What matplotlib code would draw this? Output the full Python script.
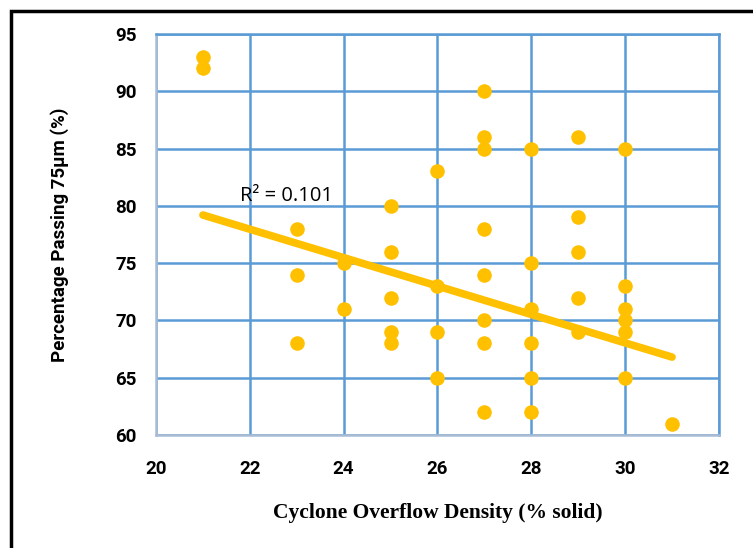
import numpy as np
from matplotlib import pyplot as plt
from matplotlib.patches import Rectangle

# data
density = [21, 21,
           23, 23, 23,
           24, 24,
           25, 25, 25, 25, 25,
           26, 26, 26, 26,
           27, 27, 27, 27, 27, 27, 27, 27,
           28, 28, 28, 28, 28, 28,
           29, 29, 29, 29, 29,
           30, 30, 30, 30, 30, 30,
           31]
passing = [93, 92,
           78, 74, 68,
           75, 71,
           80, 76, 72, 69, 68,
           83, 73, 69, 65,
           90, 86, 85, 78, 74, 70, 68, 62,
           85, 75, 71, 68, 65, 62,
           86, 79, 76, 72, 69,
           85, 73, 71, 70, 69, 65,
           61]
# linear trendline as drawn in the chart
trend_x = [21, 31]
trend_y = [79.2, 66.8]
xticks = [20, 22, 24, 26, 28, 30, 32]
yticks = [60, 65, 70, 75, 80, 85, 90, 95]
r2_label = 'R² = 0.101'

gold = '#FFC000'
gridblue = '#5B9BD5'

fig = plt.figure(figsize=(7.53, 5.48), dpi=100)
ax = fig.add_axes([0.2072, 0.2062, 0.7476, 0.7318])

ax.scatter(density, passing, s=110, color=gold, zorder=3, linewidths=0)
ax.plot(trend_x, trend_y, color=gold, lw=5.5, solid_capstyle='round', zorder=2)

ax.text(21.8, 80.9, r2_label, fontsize=14.5, va='center', family='Open Sans')

ax.set_xlim(20, 32)
ax.set_ylim(60, 95)
ax.set_xticks(xticks)
ax.set_yticks(yticks)
ax.grid(True, color=gridblue, lw=1.8)
ax.set_axisbelow(True)
for s in ['top', 'right']:
    ax.spines[s].set_color(gridblue)
    ax.spines[s].set_linewidth(1.8)
for s in ['left', 'bottom']:
    ax.spines[s].set_color('#A9BCD5')
    ax.spines[s].set_linewidth(1.8)

ax.tick_params(length=0)
ax.tick_params(axis='y', pad=14)
ax.tick_params(axis='x', pad=18)
for lbl in ax.get_xticklabels() + ax.get_yticklabels():
    lbl.set_fontfamily('Roboto')
    lbl.set_fontweight('bold')
    lbl.set_fontsize(13.5)

ax.set_xlabel('Cyclone Overflow Density (% solid)', family='Liberation Serif',
              fontweight='bold', fontsize=15.5, labelpad=18)
ax.set_ylabel('Percentage Passing 75μm (%)', family='Roboto',
              fontweight='bold', fontsize=13.5, labelpad=33)

# black frame around the chart area (cropped on right and bottom)
fig.patches.append(Rectangle((11 / 753, -0.1), 1.2, 1.1 - 11 / 548,
                             transform=fig.transFigure, fill=False,
                             edgecolor='black', lw=2.5))

fig.savefig('out.png', dpi=100)
